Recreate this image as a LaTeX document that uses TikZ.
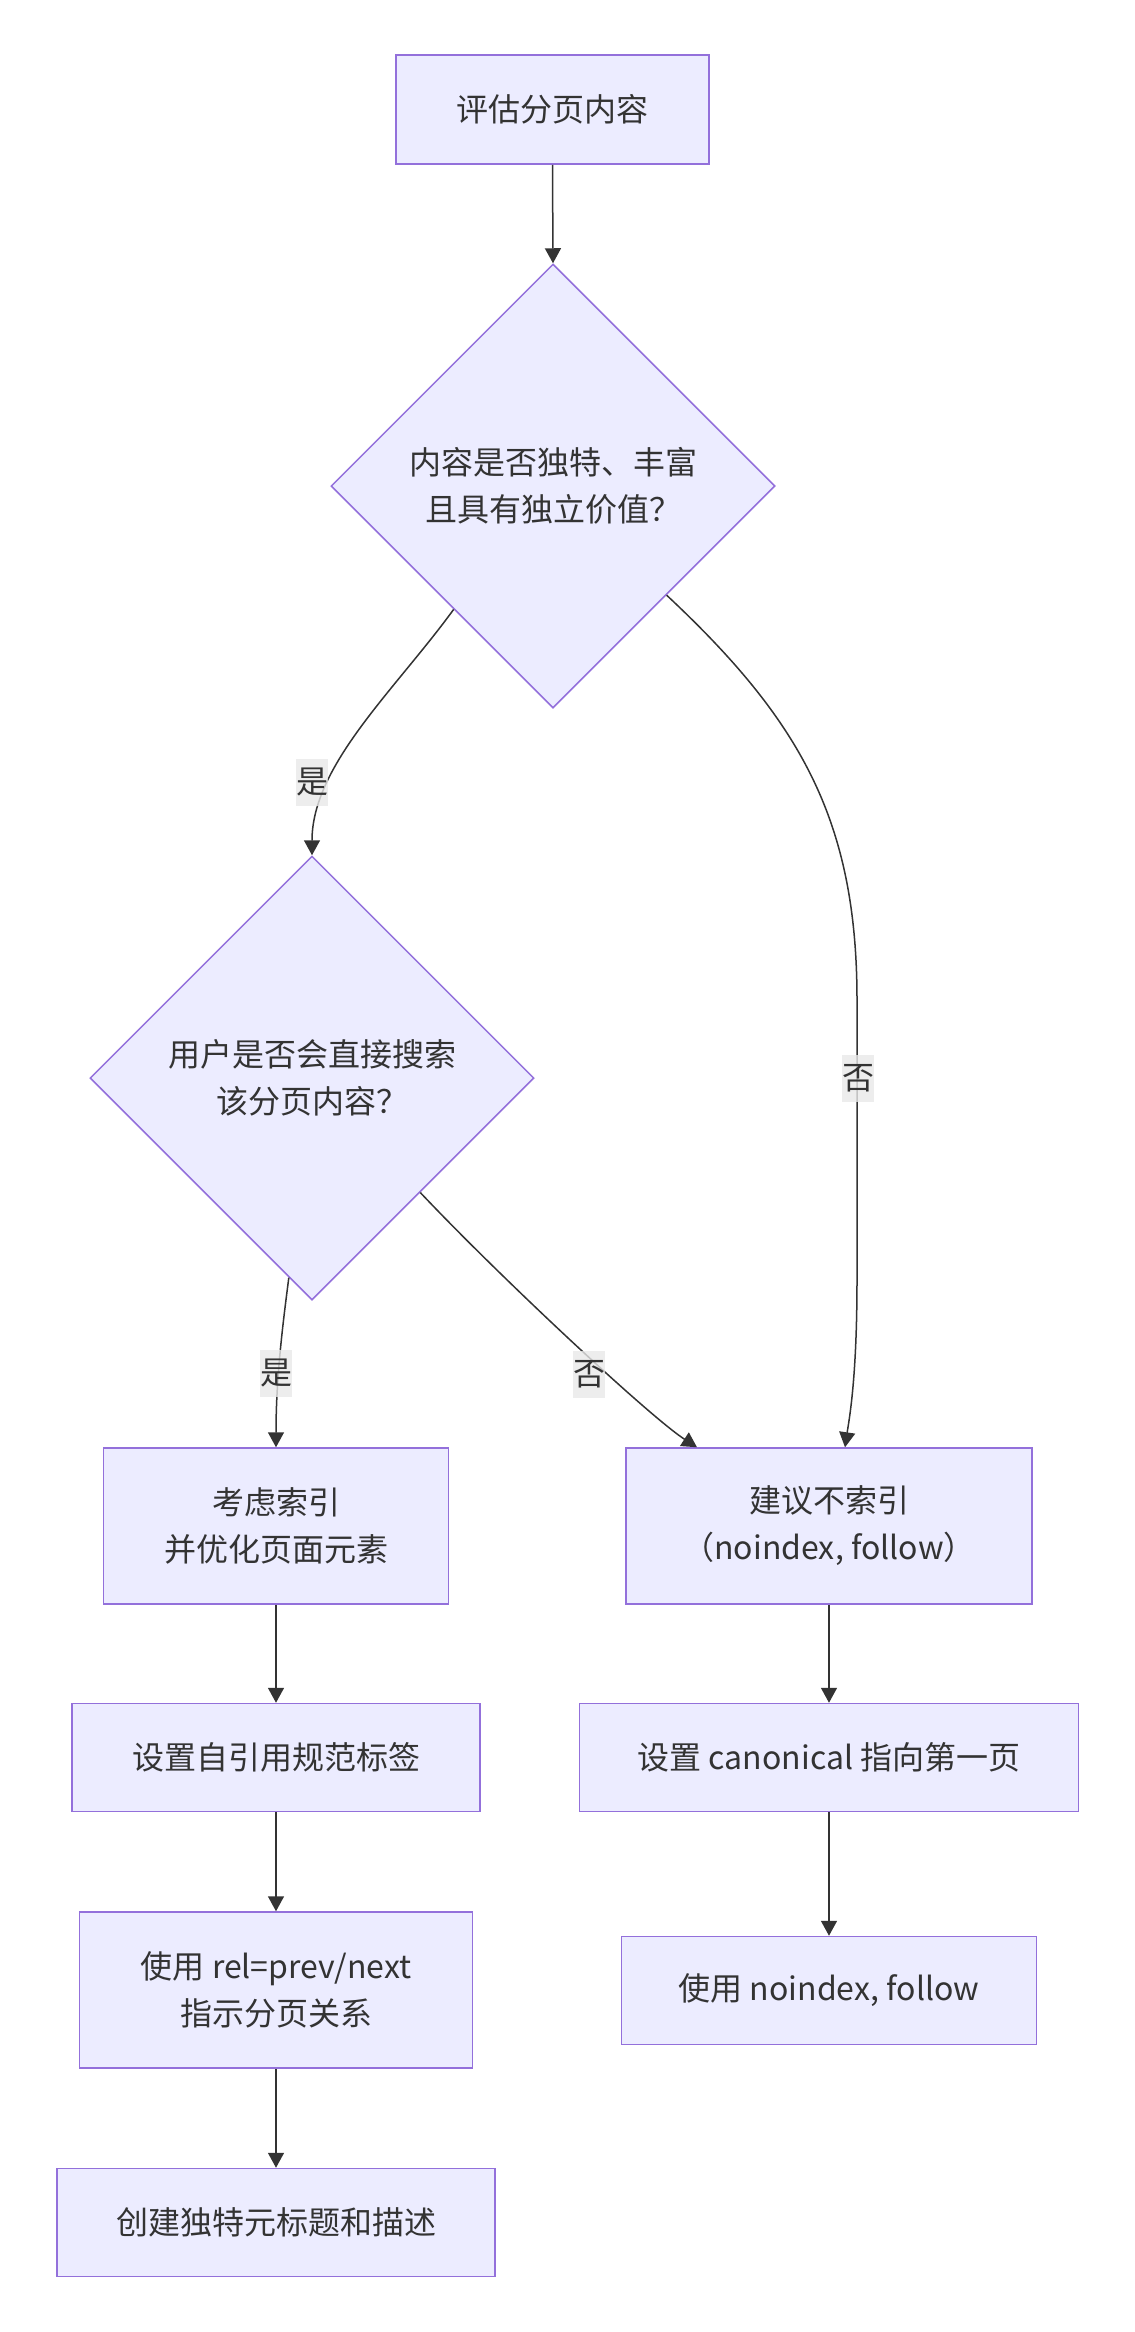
\documentclass[tikz,border=0pt]{standalone}
\usepackage{fontspec}
\newfontfamily\cjk{Noto Sans CJK SC}
\usetikzlibrary{shapes.geometric,arrows.meta,calc}
\definecolor{nodefill}{HTML}{ECECFF}
\definecolor{nodeline}{HTML}{9370DB}
\definecolor{txt}{HTML}{333333}
\definecolor{lblbg}{HTML}{E8E8E8}
\tikzset{
  base/.style={font=\cjk\fontsize{32}{47}\selectfont, text=txt, align=center},
  box/.style={base, draw=nodeline, fill=nodefill, line width=1.5pt, rectangle, inner sep=0pt},
  dia/.style={base, draw=nodeline, fill=nodefill, line width=1.5pt, diamond, aspect=1, inner sep=0pt, minimum width=444pt, minimum height=444pt},
  lbl/.style={base, fill=lblbg, fill opacity=0.8, text opacity=1, inner sep=0pt, minimum width=32pt, minimum height=47pt},
  conn/.style={draw=txt, line width=1.5pt, -{Triangle[length=15pt,width=16pt]}},
}
\begin{document}
\begin{tikzpicture}[x=1pt,y=-1pt]
\useasboundingbox (0,0) rectangle (1135,2332);
% nodes
\node[box, minimum width=313pt, minimum height=109pt] (b1) at (552.5,109.5) {评估分页内容};
\node[dia] (d1) at (553,486) {内容是否独特、丰富\\且具有独立价值？};
\node[dia] (d2) at (312,1078) {用户是否会直接搜索\\该分页内容？};
\node[box, minimum width=345pt, minimum height=156pt] (b2) at (276,1526) {考虑索引\\并优化页面元素};
\node[box, minimum width=406pt, minimum height=156pt] (b3) at (829,1526) {建议不索引\\（noindex, follow）};
\node[box, minimum width=408pt, minimum height=108pt] (b4) at (276,1757.5) {设置自引用规范标签};
\node[box, minimum width=499pt, minimum height=108pt] (b5) at (829,1757.5) {设置 canonical 指向第一页};
\node[box, minimum width=393pt, minimum height=156pt] (b6) at (276,1990) {使用 rel=prev/next\\指示分页关系};
\node[box, minimum width=415pt, minimum height=108pt] (b7) at (829,1990.5) {使用 noindex, follow};
\node[box, minimum width=438pt, minimum height=108pt] (b8) at (276,2222.5) {创建独特元标题和描述};
% connector end points
\coordinate (s1) at ($(d1.south)!0.446!(d1.west)$);
\coordinate (s2) at ($(d1.south)!0.51!(d1.east)$);
\coordinate (s3) at ($(d2.south)!0.104!(d2.west)$);
\coordinate (s4) at ($(d2.south)!0.486!(d2.east)$);
\coordinate (e1) at ([xshift=16pt]b3.north);
\coordinate (e2) at ([xshift=-132pt]b3.north);
% connectors
\draw[conn] (b1.south) -- (d1.north);
\draw[conn] (s1) .. controls (395,690) and (312,765) .. (d2.north);
\draw[conn] (s2) .. controls (800,720) and (857,820) .. (857,1000) -- (857,1280) .. controls (857,1380) and (849,1420) .. (e1);
\draw[conn] (s3) .. controls (282,1330) and (276,1380) .. (b2.north);
\draw[conn] (s4) .. controls (500,1277) and (650,1417) .. (e2);
\draw[conn] (b2.south) -- (b4.north);
\draw[conn] (b4.south) -- (b6.north);
\draw[conn] (b6.south) -- (b8.north);
\draw[conn] (b3.south) -- (b5.north);
\draw[conn] (b5.south) -- (b7.north);
% labels
\node[lbl] (l1) at (312,782) {是};
\node[lbl] (l2) at (858,1078) {否};
\node[lbl] (l3) at (276,1373) {是};
\node[lbl] (l4) at (589,1374) {否};
\end{tikzpicture}
\end{document}
